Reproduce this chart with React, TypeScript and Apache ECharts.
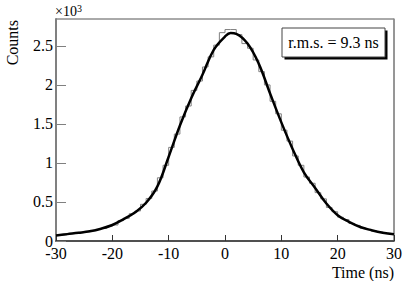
import React, { useEffect, useRef } from "react";
import * as echarts from "echarts";

// Histogram: 1 ns bins from -30 to 30 ns
const binStart = -30;
const binWidth = 1;
const histCounts = [
  72, 80, 95, 100, 112, 118, 135, 150, 160, 190,
  205, 262, 290, 350, 385, 470, 545, 640, 810, 970,
  1200, 1370, 1590, 1730, 1930, 2050, 2230, 2360, 2510, 2670,
  2710, 2710, 2645, 2530, 2470, 2320, 2170, 2000, 1790, 1630,
  1420, 1280, 1090, 970, 820, 740, 620, 540, 430, 375,
  305, 275, 225, 200, 165, 150, 128, 116, 100, 92,
];

// Fit curve sampled points
const fitX = [-30, -28, -26, -24, -22, -20, -18, -16, -14, -12, -10, -8, -6, -4, -2, 0, 1, 2, 4, 6, 8, 10, 12, 14, 16, 18, 20, 22, 24, 26, 28, 30];
const fitY = [70, 88, 105, 125, 158, 205, 280, 365, 490, 700, 1080, 1480, 1830, 2130, 2450, 2620, 2665, 2655, 2530, 2270, 1890, 1520, 1180, 880, 680, 480, 330, 245, 180, 138, 105, 85];

const xMin = -30;
const xMax = 30;
const xInterval = 10;
const yMin = 0;
const yMax = 2845;
const yInterval = 500;
const rmsLabel = "r.m.s. = 9.3 ns";
const xTitle = "Time (ns)";
const yTitle = "Counts";

const FONT = "'Times New Roman', 'Liberation Serif', serif";

export default function App() {
  const ref = useRef<HTMLDivElement>(null);
  useEffect(() => {
    const chart = echarts.init(ref.current!, null, { renderer: "svg" });
    const histPts: number[][] = [];
    histCounts.forEach((c, i) => {
      const lo = binStart + i * binWidth;
      histPts.push([lo, c], [lo + binWidth, c]);
    });
    const fitPts = fitX.map((x, i) => [x, fitY[i]]);

    chart.setOption({
      animation: false,
      backgroundColor: "#fff",
      textStyle: { fontFamily: FONT },
      grid: {
        left: 56,
        right: 21,
        top: 19,
        bottom: 40,
        show: true,
        borderColor: "#555",
        borderWidth: 1,
        backgroundColor: "transparent",
      },
      xAxis: {
        type: "value",
        min: xMin,
        max: xMax,
        interval: xInterval,
        axisLine: { show: true, onZero: false, lineStyle: { color: "#333", width: 1.5 } },
        axisTick: { show: true, inside: true, length: 6, lineStyle: { color: "#333", width: 1 } },
        axisLabel: { color: "#000", fontFamily: FONT, fontSize: 16, margin: 4 },
        splitLine: { show: false },
      },
      yAxis: [
        {
          type: "value",
          min: yMin,
          max: yMax,
          interval: yInterval,
          axisLine: { show: true, onZero: false, lineStyle: { color: "#808080", width: 2 } },
          axisTick: { show: true, inside: true, length: 10, lineStyle: { color: "#808080", width: 1 } },
          axisLabel: {
            color: "#000",
            fontFamily: FONT,
            fontSize: 16,
            margin: 3,
            showMaxLabel: false,
            formatter: (v: number) => (v % yInterval === 0 ? String(v / 1000) : ""),
          },
          splitLine: { show: false },
        },
        {
          type: "value",
          position: "right",
          min: yMin,
          max: yMax,
          interval: yInterval,
          axisLine: { show: true, onZero: false, lineStyle: { color: "#909090", width: 1.5 } },
          axisTick: { show: false },
          axisLabel: { show: false },
          splitLine: { show: false },
        },
      ],
      series: [
        {
          type: "line",
          data: histPts,
          showSymbol: false,
          symbol: "none",
          lineStyle: { color: "#808080", width: 1 },
          z: 2,
        },
        {
          type: "line",
          data: fitPts,
          smooth: 0.4,
          showSymbol: false,
          symbol: "none",
          lineStyle: { color: "#000", width: 2.5 },
          z: 3,
        },
      ],
      graphic: [
        {
          type: "text",
          x: 12,
          y: 20,
          rotation: Math.PI / 2,
          style: { text: yTitle, fontFamily: FONT, fontSize: 16, fill: "#000", align: "right", verticalAlign: "middle" },
        },
        {
          type: "text",
          x: 55,
          y: 19,
          style: {
            text: "×10{sup|3}",
            fontFamily: FONT,
            fontSize: 14,
            fill: "#000",
            align: "left",
            verticalAlign: "bottom",
            rich: { sup: { fontFamily: FONT, fontSize: 10, verticalAlign: "top", padding: [0, 0, 6, 0] } },
          },
        },
        {
          type: "text",
          x: 394,
          y: 272,
          style: { text: xTitle, fontFamily: FONT, fontSize: 16, fill: "#000", align: "right", verticalAlign: "middle" },
        },
        {
          type: "rect",
          shape: { x: 284.5, y: 30.5, width: 103, height: 29 },
          style: { fill: "#000" },
          z: 10,
        },
        {
          type: "rect",
          shape: { x: 282, y: 28, width: 103, height: 29 },
          style: { fill: "#fff", stroke: "#444", lineWidth: 1 },
          z: 11,
        },
        {
          type: "text",
          x: 333.5,
          y: 42.5,
          z: 12,
          style: { text: rmsLabel, fontFamily: FONT, fontSize: 16, fill: "#000", align: "center", verticalAlign: "middle" },
        },
      ],
    });
    return () => chart.dispose();
  }, []);
  return (
    <div
      ref={ref}
      style={{ position: "absolute", left: 0, top: 0, width: 415, height: 281, background: "#fff" }}
    />
  );
}
